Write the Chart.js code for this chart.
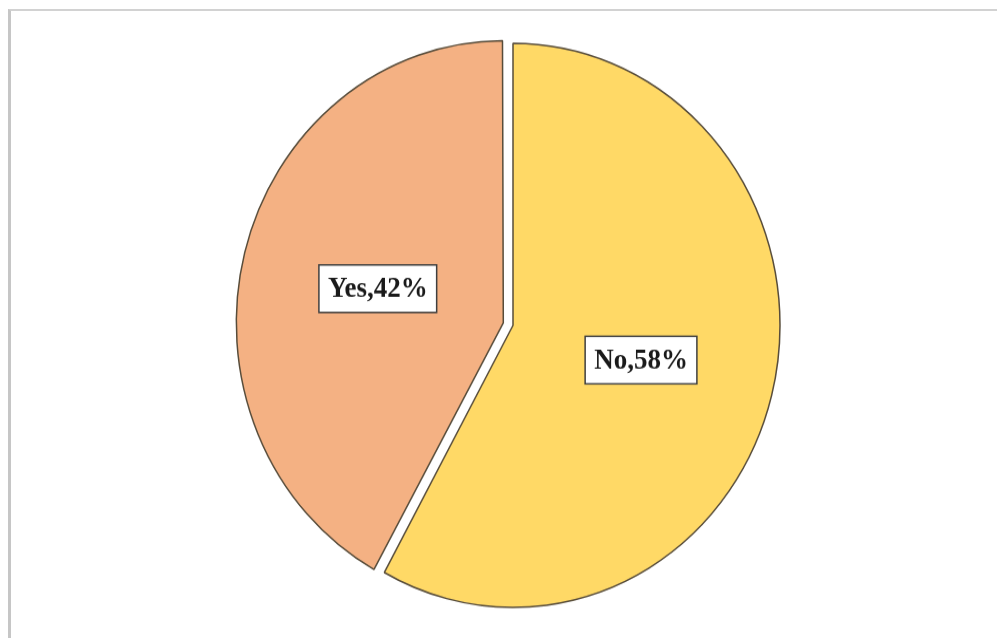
<!DOCTYPE html>
<html>
<head>
<meta charset="utf-8">
<title>Yes / No</title>
<script src="https://cdn.jsdelivr.net/npm/chart.js@4/dist/chart.umd.min.js"></script>
<style>
  html, body { margin: 0; padding: 0; background: #fff; }
  #frame {
    position: absolute; left: 8px; top: 9px; width: 1100px; height: 700px;
    border-left: 3px solid #c6c6c6; border-top: 2px solid #d2d2d2;
  }
  /* the pie is drawn slightly taller than wide */
  #wrap {
    position: absolute; left: 0; top: 0; width: 997px; height: 604px;
    transform: scaleY(1.0563); transform-origin: 0 0;
  }
</style>
</head>
<body>
<div id="frame"></div>
<div id="wrap"><canvas id="pie"></canvas></div>
<script>
const answers = ['No', 'Yes'];
const shares = [58, 42];
const sliceColors = ['#FFD966', '#F4B183'];
const explode = [0, 40];

// an exploded arc is drawn with a slightly bigger radius; pull it back
// so both slices keep the same size
const keepRadius = {
    id: 'keepRadius',
    afterDatasetUpdate(chart, args) {
        args.meta.data.forEach(function (arc, i) {
            const shift = explode[i] / 4;
            if (!shift) return;
            const fix = 1 - Math.sin(Math.min(Math.PI, arc.circumference));
            arc.outerRadius -= shift * fix;
        });
    }
};

// white boxed labels inside each slice, e.g. "No,58%"
const boxLabels = {
    id: 'boxLabels',
    afterDatasetsDraw(chart) {
        const ctx = chart.ctx;
        const meta = chart.getDatasetMeta(0);
        ctx.save();
        ctx.font = 'bold 27px "Liberation Serif", "Times New Roman", serif';
        ctx.textAlign = 'center';
        ctx.textBaseline = 'middle';
        meta.data.forEach(function (arc, i) {
            const p = arc.getProps(['x', 'y', 'startAngle', 'endAngle', 'outerRadius'], true);
            const mid = (p.startAngle + p.endAngle) / 2;
            const shift = explode[i] / 4;
            const r = p.outerRadius * 0.495 + shift;
            const cx = p.x + Math.cos(mid) * r;
            const cy = p.y + Math.sin(mid) * r;
            const text = answers[i] + ',' + shares[i] + '%';
            const w = ctx.measureText(text).width + 18;
            const h = 45;
            ctx.fillStyle = '#ffffff';
            ctx.fillRect(cx - w / 2, cy - h / 2, w, h);
            ctx.lineWidth = 1.5;
            ctx.strokeStyle = '#3f3f3f';
            ctx.strokeRect(cx - w / 2, cy - h / 2, w, h);
            ctx.fillStyle = '#1a1a1a';
            ctx.fillText(text, cx, cy + 1);
        });
        ctx.restore();
    }
};

new Chart(document.getElementById('pie'), {
    type: 'pie',
    data: {
        labels: answers,
        datasets: [{
            data: shares,
            backgroundColor: sliceColors,
            borderColor: '#574c3a',
            borderWidth: 1.5,
            offset: explode,
            radius: 267
        }]
    },
    options: {
        responsive: true,
        maintainAspectRatio: false,
        animation: false,
        layout: { padding: { left: 29, right: 0, top: 12, bottom: 0 } },
        plugins: {
            legend: { display: false },
            tooltip: { enabled: false }
        }
    },
    plugins: [keepRadius, boxLabels]
});
</script>
</body>
</html>
